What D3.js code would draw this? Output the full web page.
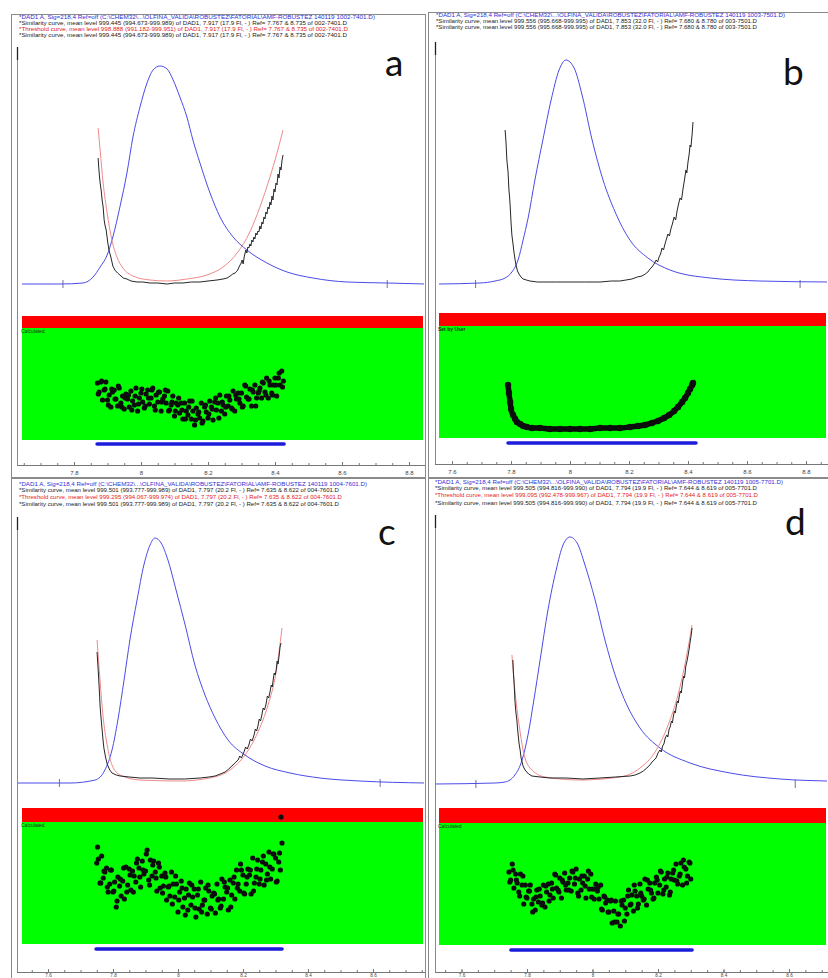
<!DOCTYPE html>
<html><head><meta charset="utf-8">
<script src="https://cdn.jsdelivr.net/npm/d3@7"></script>
<style>body{margin:0;background:#fff}svg{display:block}</style>
</head><body><svg id="chart" width="828" height="978"></svg>
<script>
// ---------- data: retention time (min) vs. signal / similarity ----------
const tickValues = [7.6, 7.8, 8.0, 8.2, 8.4, 8.6, 8.8];
const tickLabels = ["7.6", "7.8", "8", "8.2", "8.4", "8.6", "8.8"];

const aHeader = [
  String.raw`*DAD1 A, Sig=218,4 Ref=off (C:\CHEM32\...\OLFINA_VALIDA\ROBUSTEZ\FATORIAL\AMF-ROBUSTEZ 140119 1002-7401.D)`,
  "*Similarity curve, mean level 999.445 (994.673-999.989) of DAD1, 7.917 (17.9 Fl, - ) Ref= 7.767 &  8.735 of 002-7401.D",
  "*Threshold curve, mean level 998.888 (991.182-999.951) of DAD1, 7.917 (17.9 Fl, - ) Ref= 7.767 &  8.735 of 002-7401.D",
  "*Similarity curve, mean level 999.445 (994.673-999.989) of DAD1, 7.917 (17.9 Fl, - ) Ref= 7.767 &  8.735 of 002-7401.D"
];
const bHeader = [
  String.raw`*DAD1 A, Sig=218,4 Ref=off (C:\CHEM32\...\OLFINA_VALIDA\ROBUSTEZ\FATORIAL\AMF-ROBUSTEZ 140119 1003-7501.D)`,
  "*Similarity curve, mean level 999.556 (995.668-999.995) of DAD1, 7.853 (32.0 Fl, - ) Ref= 7.680 &  8.780 of 003-7501.D",
  "*Similarity curve, mean level 999.556 (995.668-999.995) of DAD1, 7.853 (32.0 Fl, - ) Ref= 7.680 &  8.780 of 003-7501.D"
];
const cHeader = [
  String.raw`*DAD1 A, Sig=218,4 Ref=off (C:\CHEM32\...\OLFINA_VALIDA\ROBUSTEZ\FATORIAL\AMF-ROBUSTEZ 140119 1004-7601.D)`,
  "*Similarity curve, mean level 999.501 (993.777-999.989) of DAD1, 7.797 (20.2 Fl, - ) Ref= 7.635 &  8.622 of 004-7601.D",
  "*Threshold curve, mean level 999.295 (994.067-999.974) of DAD1, 7.797 (20.2 Fl, - ) Ref= 7.635 &  8.622 of 004-7601.D",
  "*Similarity curve, mean level 999.501 (993.777-999.989) of DAD1, 7.797 (20.2 Fl, - ) Ref= 7.635 &  8.622 of 004-7601.D"
];
const dHeader = [
  String.raw`*DAD1 A, Sig=218,4 Ref=off (C:\CHEM32\...\OLFINA_VALIDA\ROBUSTEZ\FATORIAL\AMF-ROBUSTEZ 140119 1005-7701.D)`,
  "*Similarity curve, mean level 999.505 (994.816-999.990) of DAD1, 7.794 (19.9 Fl, - ) Ref= 7.644 &  8.619 of 005-7701.D",
  "*Threshold curve, mean level 999.095 (992.478-999.967) of DAD1, 7.794 (19.9 Fl, - ) Ref= 7.644 &  8.619 of 005-7701.D",
  "*Similarity curve, mean level 999.505 (994.816-999.990) of DAD1, 7.794 (19.9 Fl, - ) Ref= 7.644 &  8.619 of 005-7701.D"
];

// reference spectra times and purity-evaluation window (min)
const aRefs = [7.767, 8.735], bRefs = [7.680, 8.780], cRefs = [7.635, 8.622], dRefs = [7.644, 8.619];
const aWindow = [7.869, 8.427], bWindow = [7.790, 8.427], cWindow = [7.748, 8.320], dWindow = [7.751, 8.304];

// DAD1 A signal (mAU)
const aSignal = [[7.645,0],[7.758,0],[7.827,1],[7.857,7],[7.878,17],[7.899,29],[7.916,47],[7.937,77],[7.958,111],[7.976,147],[7.997,177],[8.018,201],[8.036,214],[8.057,218],[8.078,215],[8.096,204],[8.116,187],[8.137,167],[8.155,144],[8.176,121],[8.206,91],[8.236,67],[8.275,47],[8.316,34],[8.376,21],[8.436,12],[8.513,6],[8.615,2],[8.734,1],[8.848,0]];
const bSignal = [[7.556,0],[7.695,1],[7.746,3],[7.780,6],[7.803,12],[7.824,24],[7.841,44],[7.858,66],[7.881,104],[7.908,144],[7.936,184],[7.963,214],[7.986,224],[8.014,216],[8.041,189],[8.075,144],[8.112,104],[8.153,72],[8.203,44],[8.264,26],[8.339,14],[8.475,6],[8.644,3],[8.875,2]];
const cSignal = [[7.505,0],[7.668,0],[7.745,3],[7.775,13],[7.797,33],[7.815,63],[7.834,103],[7.852,143],[7.874,183],[7.895,218],[7.914,238],[7.929,245],[7.948,240],[7.969,223],[7.994,193],[8.022,158],[8.052,118],[8.083,88],[8.114,65],[8.154,43],[8.206,28],[8.268,17],[8.345,10],[8.437,5],[8.560,2],[8.760,0]];
const dSignal = [[7.519,0],[7.702,1],[7.733,2],[7.763,9],[7.785,24],[7.803,49],[7.821,84],[7.840,124],[7.864,174],[7.889,214],[7.910,239],[7.931,247],[7.953,241],[7.977,219],[8.008,184],[8.038,144],[8.069,109],[8.105,79],[8.145,56],[8.206,36],[8.298,21],[8.420,11],[8.573,5],[8.719,3]];

// similarity curves (same vertical units as the signal)
const aSimilarity = [[7.872,126],[7.874,116],[7.876,108],[7.878,101],[7.881,94],[7.884,84],[7.887,77],[7.890,64],[7.893,58],[7.896,54],[7.901,41],[7.905,33],[7.910,27],[7.916,18],[7.922,14],[7.930,11],[7.937,9],[7.947,6],[7.958,5],[7.970,3],[7.988,2],[8.005,2],[8.027,1],[8.050,1],[8.078,0],[8.100,1],[8.125,1],[8.150,2],[8.176,2],[8.200,3],[8.227,4],[8.245,5],[8.257,6],[8.266,8],[8.274,10],[8.281,11],[8.287,13],[8.290,15],[8.294,18],[8.299,21],[8.302,24],[8.305,20],[8.308,27],[8.313,34],[8.316,31],[8.319,37],[8.322,36],[8.325,40],[8.328,38],[8.331,44],[8.334,42],[8.337,47],[8.340,45],[8.343,51],[8.346,49],[8.349,53],[8.352,52],[8.355,58],[8.358,55],[8.361,62],[8.364,60],[8.367,67],[8.370,65],[8.373,72],[8.376,70],[8.379,77],[8.382,75],[8.385,82],[8.388,79],[8.391,88],[8.394,84],[8.397,95],[8.400,92],[8.403,101],[8.406,99],[8.409,110],[8.412,106],[8.415,117],[8.418,114],[8.421,124],[8.424,129]];
const bSimilarity = [[7.780,154],[7.783,142],[7.786,124],[7.788,118],[7.790,112],[7.793,94],[7.795,88],[7.797,79],[7.800,62],[7.803,49],[7.806,42],[7.810,32],[7.814,24],[7.817,19],[7.822,13],[7.827,10],[7.834,7],[7.841,5],[7.852,4],[7.864,3],[7.890,2],[7.915,2],[7.950,2],[8.000,2],[8.050,2],[8.102,2],[8.140,3],[8.169,3],[8.190,4],[8.210,5],[8.228,7],[8.244,8],[8.255,10],[8.264,12],[8.271,15],[8.278,17],[8.285,20],[8.292,24],[8.297,22],[8.302,27],[8.307,30],[8.312,36],[8.317,34],[8.322,40],[8.327,45],[8.332,50],[8.337,48],[8.342,55],[8.347,60],[8.353,67],[8.358,64],[8.363,73],[8.368,80],[8.373,86],[8.378,84],[8.383,95],[8.388,104],[8.393,114],[8.396,111],[8.400,122],[8.404,130],[8.407,139],[8.410,137],[8.414,150],[8.417,162]];
const cSimilarity = [[7.751,131],[7.753,120],[7.755,110],[7.757,98],[7.759,86],[7.760,78],[7.763,66],[7.766,55],[7.769,44],[7.772,35],[7.777,26],[7.782,19],[7.790,13],[7.797,10],[7.810,8],[7.822,7],[7.850,6],[7.883,5],[7.920,5],[7.975,4],[8.020,4],[8.068,5],[8.095,6],[8.114,7],[8.130,9],[8.145,11],[8.156,14],[8.166,17],[8.175,20],[8.185,23],[8.190,27],[8.195,25],[8.203,31],[8.208,36],[8.213,34],[8.218,38],[8.223,44],[8.228,42],[8.234,48],[8.238,54],[8.242,52],[8.246,57],[8.250,64],[8.254,62],[8.258,68],[8.262,75],[8.266,73],[8.271,79],[8.275,87],[8.279,85],[8.283,91],[8.287,98],[8.290,96],[8.292,101],[8.296,110],[8.299,108],[8.302,113],[8.305,122],[8.308,119],[8.311,127],[8.314,136],[8.317,140]];
const dSimilarity = [[7.757,124],[7.758,114],[7.760,104],[7.762,92],[7.763,84],[7.766,72],[7.769,64],[7.771,56],[7.773,49],[7.776,40],[7.779,34],[7.782,26],[7.788,18],[7.794,14],[7.805,10],[7.815,8],[7.840,7],[7.870,6],[7.920,6],[7.970,5],[8.023,6],[8.070,7],[8.115,8],[8.130,9],[8.145,11],[8.155,13],[8.166,16],[8.175,19],[8.182,22],[8.188,24],[8.194,26],[8.200,31],[8.206,34],[8.210,32],[8.214,38],[8.218,40],[8.222,46],[8.227,49],[8.230,47],[8.234,55],[8.237,57],[8.241,63],[8.244,61],[8.246,66],[8.250,73],[8.253,71],[8.255,76],[8.259,83],[8.262,81],[8.264,86],[8.268,93],[8.271,91],[8.273,96],[8.276,104],[8.279,108],[8.281,106],[8.285,118],[8.288,122],[8.292,129],[8.295,135],[8.298,142],[8.301,148],[8.304,156]];

// threshold curves (panel b has none)
const aThreshold = [[7.872,156],[7.878,134],[7.887,101],[7.899,71],[7.913,44],[7.928,27],[7.946,16],[7.976,8],[8.027,4],[8.078,3],[8.137,5],[8.197,9],[8.245,17],[8.287,31],[8.325,52],[8.355,77],[8.385,107],[8.406,131],[8.424,154]];
const cThreshold = [[7.751,143],[7.760,103],[7.769,68],[7.782,38],[7.797,18],[7.822,8],[7.883,3],[8.006,2],[8.098,5],[8.160,13],[8.206,28],[8.246,51],[8.277,78],[8.302,111],[8.320,155]];
const dThreshold = [[7.754,129],[7.763,94],[7.776,59],[7.788,34],[7.809,16],[7.855,7],[7.962,4],[8.084,7],[8.145,16],[8.191,32],[8.231,59],[8.261,89],[8.285,124],[8.304,159]];

// purity ratio points (deviation above the lower band edge)
const aPurity = [[7.870,57],[7.875,48],[7.880,58],[7.885,40],[7.890,50],[7.895,58],[7.900,40],[7.905,45],[7.910,33],[7.915,48],[7.920,50],[7.925,41],[7.930,34],[7.935,52],[7.940,37],[7.945,44],[7.950,31],[7.955,46],[7.960,41],[7.965,33],[7.970,49],[7.975,39],[7.980,35],[7.985,52],[7.990,29],[7.995,42],[8.000,47],[8.005,38],[8.010,32],[8.015,46],[8.020,50],[8.025,36],[8.030,42],[8.035,52],[8.040,34],[8.045,45],[8.050,38],[8.055,48],[8.060,29],[8.065,41],[8.070,44],[8.075,37],[8.080,49],[8.085,30],[8.090,35],[8.095,44],[8.100,24],[8.105,37],[8.110,35],[8.115,27],[8.120,37],[8.125,21],[8.130,37],[8.135,29],[8.140,25],[8.145,39],[8.150,21],[8.155,29],[8.160,15],[8.165,32],[8.170,26],[8.175,22],[8.180,37],[8.185,19],[8.190,33],[8.195,28],[8.200,22],[8.205,39],[8.210,33],[8.215,20],[8.220,38],[8.225,30],[8.230,37],[8.235,45],[8.240,29],[8.245,35],[8.250,26],[8.255,44],[8.260,34],[8.265,40],[8.270,32],[8.275,49],[8.280,29],[8.285,41],[8.290,47],[8.295,37],[8.300,47],[8.305,34],[8.310,55],[8.315,43],[8.320,41],[8.325,51],[8.330,34],[8.335,48],[8.340,55],[8.345,42],[8.350,47],[8.355,52],[8.360,42],[8.365,57],[8.370,48],[8.375,62],[8.380,42],[8.385,55],[8.390,47],[8.395,55],[8.400,62],[8.405,44],[8.410,62],[8.415,55],[8.420,69],[8.425,59],
  [7.8725,46],[7.8825,59],[7.8925,51],[7.9025,35],[7.9125,51],[7.9225,41],[7.9325,54],[7.9425,33],[7.9525,42],[7.9625,45],[7.9725,30],[7.9825,44],[7.9925,36],[8.0025,51],[8.0125,34],[8.0225,42],[8.0325,50],[8.0425,30],[8.0525,48],[8.0625,38],[8.0725,50],[8.0825,29],[8.0925,38],[8.1025,29],[8.1125,42],[8.1225,30],[8.1325,21],[8.1425,33],[8.1525,39],[8.1625,20],[8.1725,28],[8.1825,17],[8.1925,35],[8.2025,26],[8.2125,31],[8.2225,42],[8.2325,22],[8.2425,38],[8.2525,33],[8.2625,44],[8.2725,31],[8.2825,45],[8.2925,41],[8.3025,33],[8.3125,54],[8.3225,41],[8.3325,50],[8.3425,34],[8.3525,49],[8.3625,58],[8.3725,45],[8.3825,59],[8.3925,45],[8.4025,55],[8.4125,67],[8.4225,53]];
const bPurity = [[7.790,53],[7.793,45],[7.797,36],[7.800,29],[7.807,23],[7.814,19],[7.820,16],[7.831,14],[7.841,12],[7.854,11],[7.871,10],[7.898,10],[7.932,9],[7.966,9],[8.000,9],[8.034,9],[8.068,9],[8.102,10],[8.136,10],[8.169,10],[8.203,11],[8.231,12],[8.254,13],[8.278,15],[8.298,17],[8.319,20],[8.336,23],[8.353,27],[8.366,31],[8.380,36],[8.390,40],[8.400,45],[8.407,49],[8.414,53],[8.417,55]];
const cPurity = [[7.750,81],[7.755,85],[7.760,61],[7.765,88],[7.770,66],[7.775,72],[7.780,76],[7.785,52],[7.790,60],[7.795,74],[7.800,52],[7.805,62],[7.810,37],[7.815,67],[7.820,58],[7.825,48],[7.830,63],[7.835,45],[7.840,77],[7.845,59],[7.850,75],[7.855,54],[7.860,73],[7.865,68],[7.870,62],[7.875,85],[7.880,76],[7.885,57],[7.890,83],[7.895,70],[7.900,73],[7.905,94],[7.910,64],[7.915,84],[7.920,68],[7.925,83],[7.930,72],[7.935,53],[7.940,81],[7.945,56],[7.950,68],[7.955,58],[7.960,71],[7.965,44],[7.970,57],[7.975,48],[7.980,72],[7.985,60],[7.990,47],[7.995,60],[8.000,32],[8.005,52],[8.010,63],[8.015,37],[8.020,46],[8.025,55],[8.030,34],[8.035,61],[8.040,39],[8.045,47],[8.050,55],[8.055,27],[8.060,49],[8.065,35],[8.070,62],[8.075,39],[8.080,44],[8.085,56],[8.090,30],[8.095,53],[8.100,36],[8.105,48],[8.110,51],[8.115,31],[8.120,60],[8.125,45],[8.130,36],[8.135,65],[8.140,45],[8.145,57],[8.150,52],[8.155,34],[8.160,64],[8.165,49],[8.170,61],[8.175,45],[8.180,74],[8.185,60],[8.190,53],[8.195,74],[8.200,69],[8.205,50],[8.210,60],[8.215,75],[8.220,69],[8.225,50],[8.230,86],[8.235,61],[8.240,67],[8.245,84],[8.250,60],[8.255,74],[8.260,82],[8.265,59],[8.270,80],[8.275,70],[8.280,92],[8.285,65],[8.290,75],[8.295,90],[8.300,86],[8.305,63],[8.310,82],[8.315,74],[8.320,101],[8.317,127],
  [7.7525,97],[7.7625,61],[7.7725,73],[7.7825,57],[7.7925,74],[7.8025,53],[7.8125,43],[7.8225,65],[7.8325,76],[7.8425,52],[7.8525,69],[7.8625,52],[7.8725,81],[7.8825,67],[7.8925,74],[7.9025,90],[7.9125,59],[7.9225,79],[7.9325,66],[7.9425,77],[7.9525,51],[7.9625,67],[7.9725,58],[7.9825,40],[7.9925,68],[8.0025,44],[8.0125,56],[8.0225,29],[8.0325,49],[8.0425,59],[8.0525,36],[8.0625,55],[8.0725,32],[8.0825,44],[8.0925,59],[8.1025,35],[8.1125,50],[8.1225,44],[8.1325,38],[8.1425,62],[8.1525,56],[8.1625,37],[8.1725,67],[8.1825,56],[8.1925,80],[8.2025,51],[8.2125,67],[8.2225,74],[8.2325,53],[8.2425,75],[8.2525,65],[8.2625,88],[8.2725,64],[8.2825,77],[8.2925,90],[8.3025,62],[8.3125,91]];
const dPurity = [[7.745,73],[7.750,65],[7.755,81],[7.760,57],[7.765,71],[7.770,62],[7.775,53],[7.780,71],[7.785,60],[7.790,41],[7.795,60],[7.800,47],[7.805,54],[7.810,60],[7.815,41],[7.820,46],[7.825,35],[7.830,55],[7.835,43],[7.840,49],[7.845,40],[7.850,60],[7.855,38],[7.860,53],[7.865,61],[7.870,50],[7.875,62],[7.880,47],[7.885,71],[7.890,57],[7.895,55],[7.900,67],[7.905,47],[7.910,63],[7.915,72],[7.920,55],[7.925,62],[7.930,67],[7.935,54],[7.940,73],[7.945,61],[7.950,76],[7.955,52],[7.960,66],[7.965,55],[7.970,62],[7.975,69],[7.980,47],[7.985,66],[7.990,56],[7.995,71],[8.000,56],[8.005,46],[8.010,61],[8.015,54],[8.020,46],[8.025,60],[8.030,35],[8.035,49],[8.040,42],[8.045,45],[8.050,33],[8.055,44],[8.060,22],[8.065,34],[8.070,44],[8.075,23],[8.080,31],[8.085,19],[8.090,40],[8.095,45],[8.100,37],[8.105,31],[8.110,55],[8.115,40],[8.120,50],[8.125,34],[8.130,54],[8.135,49],[8.140,41],[8.145,61],[8.150,49],[8.155,45],[8.160,66],[8.165,40],[8.170,56],[8.175,62],[8.180,52],[8.185,46],[8.190,62],[8.195,68],[8.200,52],[8.205,60],[8.210,73],[8.215,51],[8.220,66],[8.225,58],[8.230,72],[8.235,50],[8.240,66],[8.245,72],[8.250,65],[8.255,81],[8.260,61],[8.265,69],[8.270,82],[8.275,60],[8.280,78],[8.285,76],[8.290,69],[8.295,83],[8.300,66],
  [7.7475,63],[7.7575,75],[7.7675,65],[7.7775,49],[7.7875,69],[7.7975,48],[7.8075,54],[7.8175,33],[7.8275,48],[7.8375,56],[7.8475,42],[7.8575,59],[7.8675,44],[7.8775,56],[7.8875,70],[7.8975,53],[7.9075,65],[7.9175,60],[7.9275,55],[7.9375,74],[7.9475,67],[7.9575,49],[7.9675,69],[7.9775,59],[7.9875,74],[7.9975,48],[8.0075,56],[8.0175,58],[8.0275,36],[8.0375,48],[8.0475,33],[8.0575,45],[8.0675,23],[8.0775,31],[8.0875,44],[8.0975,24],[8.1075,49],[8.1175,41],[8.1275,60],[8.1375,37],[8.1475,52],[8.1575,46],[8.1675,65],[8.1775,55],[8.1875,47],[8.1975,65],[8.2075,74],[8.2175,55],[8.2275,68],[8.2375,53],[8.2475,75],[8.2575,64],[8.2675,71],[8.2775,85],[8.2875,62],[8.2975,82]];

// ---------- layout of the four panels (pixels) ----------
const panels = [
  { letter:"a", header:aHeader, refs:aRefs, win:aWindow, signal:aSignal, sim:aSimilarity, thr:aThreshold, pts:aPurity, label:"Calculated",
    frame:{l:11,t:14,r:425,b:477}, inner:17, innerTop:47, axisY:465, x78:74, px:335, tickFont:6, tickPad:5,
    base:284, redTop:316, greenTop:328, greenBot:440, barY:444, plotL:22,
    hx:19, hy:[18.5,24.5,30.5,37], hw:[356,328,329,328], lx:385, ly:76 },
  { letter:"b", header:bHeader, refs:bRefs, win:bWindow, signal:bSignal, sim:bSimilarity, thr:null, pts:bPurity, label:"Set by User", line:true,
    frame:{l:428,t:12,r:840,b:478}, inner:435, innerTop:42, axisY:464, x78:511, px:295, tickFont:6, tickPad:5,
    base:284, redTop:313, greenTop:326, greenBot:438, barY:443, plotL:439,
    hx:436, hy:[17,23,29], hw:[349,321,321], lx:783, ly:85 },
  { letter:"c", header:cHeader, refs:cRefs, win:cWindow, signal:cSignal, sim:cSimilarity, thr:cThreshold, pts:cPurity, label:"Calculated",
    frame:{l:11,t:478,r:425,b:990}, inner:17, innerTop:517, axisY:972, x78:113, px:325, tickFont:4.6, tickPad:0.8,
    base:783, redTop:808, greenTop:822, greenBot:944, barY:949, plotL:22,
    hx:19, hy:[486,492,499,506], hw:[348,320,323,320], lx:378, ly:545 },
  { letter:"d", header:dHeader, refs:dRefs, win:dWindow, signal:dSignal, sim:dSimilarity, thr:dThreshold, pts:dPurity, label:"Calculated",
    frame:{l:428,t:477,r:840,b:990}, inner:435, innerTop:515, axisY:972, x78:527, px:327.5, tickFont:4.6, tickPad:0.8,
    base:784, redTop:808, greenTop:823, greenBot:945, barY:950, plotL:439,
    hx:435, hy:[484,490,497,505], hw:[348,322,323,322], lx:785, ly:535 }
];

const svg = d3.select("#chart");
const FRAME = "#8a8a8a";

function headerColor(s) {
  if (s.startsWith("*DAD1")) return "#2f2fd6";
  if (s.startsWith("*Threshold")) return "#e52222";
  return "#1a1a1a";
}

panels.forEach((p, k) => {
  const g = svg.append("g");
  const right = Math.min(p.frame.r, 828);
  const x = d3.scaleLinear().domain([7.8, 8.8]).range([p.x78, p.x78 + p.px]);
  const yTop = d3.scaleLinear().domain([0, 250]).range([p.base, p.base - 250]);
  const yPur = d3.scaleLinear().domain([0, 124]).range([p.greenBot, p.greenBot - 124]);

  const clipId = "clip" + k;
  g.append("clipPath").attr("id", clipId).append("rect")
    .attr("x", p.inner + 1).attr("y", p.frame.t).attr("width", right - p.inner - 2).attr("height", p.axisY - p.frame.t);

  // frame: outer box, inner axis line, bottom axis line
  g.append("rect").attr("x", p.frame.l + 0.5).attr("y", p.frame.t + 0.5)
    .attr("width", p.frame.r - p.frame.l).attr("height", p.frame.b - p.frame.t)
    .attr("fill", "none").attr("stroke", FRAME).attr("stroke-width", 1);
  g.append("line").attr("x1", p.inner + 0.5).attr("x2", p.inner + 0.5)
    .attr("y1", p.innerTop).attr("y2", p.axisY).attr("stroke", FRAME);
  g.append("line").attr("x1", p.inner + 0.5).attr("x2", p.inner + 0.5)
    .attr("y1", p.innerTop).attr("y2", p.innerTop + 13).attr("stroke", "#222").attr("stroke-width", 1.3);

  // header lines
  p.header.forEach((s, i) => {
    g.append("text").attr("x", p.hx).attr("y", p.hy[i])
      .attr("font-family", "'Liberation Sans', Arial, sans-serif").attr("font-size", 5.6)
      .attr("fill", headerColor(s))
      .attr("textLength", p.hw[i]).attr("lengthAdjust", "spacingAndGlyphs")
      .text(s);
  });

  // purity band: red (above threshold) and green (below)
  g.append("rect").attr("x", p.plotL).attr("y", p.redTop).attr("width", right - 2 - p.plotL)
    .attr("height", p.greenTop - p.redTop).attr("fill", "#ff0000");
  g.append("rect").attr("x", p.plotL).attr("y", p.greenTop).attr("width", right - 2 - p.plotL)
    .attr("height", p.greenBot - p.greenTop).attr("fill", "#00ff00");
  g.append("text").attr("x", p.plotL - 1).attr("y", p.greenTop + 5)
    .attr("font-family", "'Liberation Sans', Arial, sans-serif").attr("font-size", 5)
    .attr("font-weight", p.line ? "bold" : "normal").attr("fill", "#203020")
    .text(p.label);

  const plot = g.append("g").attr("clip-path", `url(#${clipId})`);

  // reference spectrum markers on the signal baseline
  plot.selectAll(".ref").data(p.refs).join("line")
    .attr("x1", d => x(d)).attr("x2", d => x(d))
    .attr("y1", yTop(0) - 4).attr("y2", yTop(0) + 4)
    .attr("stroke", "#7070a0").attr("stroke-width", 1);

  // signal
  plot.append("path").datum(p.signal)
    .attr("d", d3.line().x(d => x(d[0])).y(d => yTop(d[1])).curve(d3.curveMonotoneX))
    .attr("fill", "none").attr("stroke", "#4b4be8").attr("stroke-width", 1);
  // threshold
  if (p.thr) {
    plot.append("path").datum(p.thr)
      .attr("d", d3.line().x(d => x(d[0])).y(d => yTop(d[1])).curve(d3.curveMonotoneX))
      .attr("fill", "none").attr("stroke", "#f08a8a").attr("stroke-width", 1);
  }
  // similarity
  plot.append("path").datum(p.sim)
    .attr("d", d3.line().x(d => x(d[0])).y(d => yTop(d[1])))
    .attr("fill", "none").attr("stroke", "#262626").attr("stroke-width", 1);

  // purity points
  if (p.line) {
    plot.append("path").datum(p.pts)
      .attr("d", d3.line().x(d => x(d[0])).y(d => yPur(d[1])).curve(d3.curveMonotoneX))
      .attr("fill", "none").attr("stroke", "#0a0a0a").attr("stroke-width", 5.5).attr("stroke-linecap", "round");
  }
  plot.selectAll(".pt").data(p.pts).join("circle")
    .attr("cx", d => x(d[0])).attr("cy", d => yPur(d[1]))
    .attr("r", p.line ? 3.2 : 2.6).attr("fill", "#0d0d0d");

  // evaluation window bar
  plot.append("line").attr("x1", x(p.win[0])).attr("x2", x(p.win[1]))
    .attr("y1", p.barY).attr("y2", p.barY)
    .attr("stroke", "#1c1cdc").attr("stroke-width", 3.6).attr("stroke-linecap", "round");

  // time axis
  const x0 = x.invert(p.inner), x1 = x.invert(right);
  const minor = d3.range(7.5, 8.9, 0.05).filter(v => v > x0 + 0.01 && v < x1 - 0.005);
  const ax = g.append("g").attr("transform", `translate(0,${p.axisY + 0.5})`);
  ax.append("line").attr("x1", p.inner).attr("x2", right).attr("stroke", "#777");
  const minorAxis = d3.axisBottom(x).tickValues(minor).tickFormat("").tickSizeInner(-2.5).tickSizeOuter(0);
  ax.append("g").call(minorAxis).call(s => s.select(".domain").remove())
    .selectAll("line").attr("stroke", "#777");
  const major = tickValues.filter(v => v > x0 && v < x1 - 0.01);
  const majorAxis = d3.axisBottom(x).tickValues(major)
    .tickFormat(d => tickLabels[tickValues.indexOf(d)]).tickSizeInner(-3.5).tickSizeOuter(0).tickPadding(p.tickPad);
  const mg = ax.append("g").call(majorAxis).call(s => s.select(".domain").remove());
  mg.selectAll("line").attr("stroke", "#777");
  mg.selectAll("text").attr("font-family", "'Liberation Sans', Arial, sans-serif")
    .attr("font-size", p.tickFont).attr("fill", "#444");

  // panel letter
  g.append("text").attr("x", p.lx).attr("y", p.ly)
    .attr("font-family", "Lato, 'Open Sans', sans-serif").attr("font-size", 37)
    .attr("fill", "#111").text(p.letter);
});
</script></body></html>
